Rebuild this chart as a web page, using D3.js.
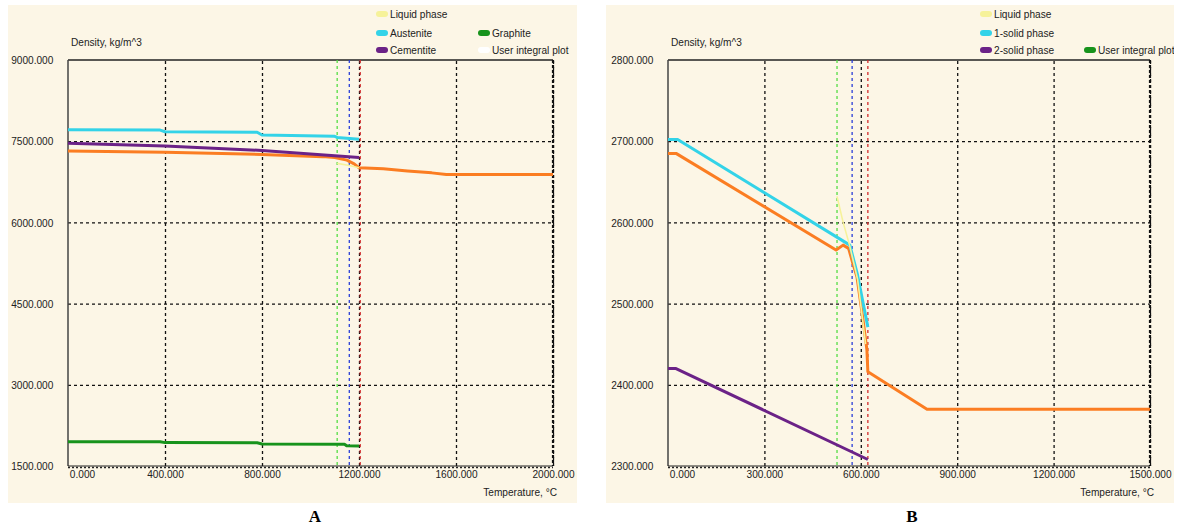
<!DOCTYPE html>
<html>
<head>
<meta charset="utf-8">
<script src="https://cdn.jsdelivr.net/npm/d3@7"></script>
<style>
    body { margin: 0; background: #fff; }
    svg { display: block; }
    .lbl { font-family: "Liberation Sans", Arial, sans-serif; font-size: 11.5px; fill: #222; }
    .grid line { stroke: #111; stroke-width: 1.3; stroke-dasharray: 3,3; }
    .grid .domain { display: none; }
    .panel-title { font-family: "Liberation Serif", serif; font-weight: bold; font-size: 17px; fill: #000; }
</style>
</head>
<body>
<svg width="1177" height="528"></svg>
<script>
//  ---- Panel A : Fe-C cast iron ----
const tempTicksA = [0, 400, 800, 1200, 1600, 2000];
const densTicksA = [1500, 3000, 4500, 6000, 7500, 9000];
const liquidA     = [[1110, 7090], [1160, 7050], [1200, 7010]];
const austeniteA  = [[0, 7710], [380, 7705], [400, 7675], [780, 7665], [800, 7615], [1100, 7590], [1110, 7570], [1200, 7535]];
const cementiteA  = [[0, 7460], [400, 7410], [800, 7330], [1100, 7230], [1200, 7200]];
const graphiteA   = [[0, 1950], [380, 1948], [400, 1932], [780, 1928], [800, 1908], [1140, 1900], [1150, 1872], [1200, 1870]];
const integralA   = [[0, 7320], [400, 7295], [800, 7255], [1050, 7215], [1100, 7200], [1150, 7150], [1180, 7080], [1200, 7010],
                     [1300, 6990], [1400, 6950], [1500, 6915], [1560, 6885], [2000, 6885]];
const phaseLinesA = [1110, 1160, 1205];

//  ---- Panel B : aluminium alloy ----
const tempTicksB = [0, 300, 600, 900, 1200, 1500];
const densTicksB = [2300, 2400, 2500, 2600, 2700, 2800];
const liquidB     = [[526, 2632], [545, 2600], [565, 2572], [590, 2530], [605, 2482], [615, 2450]];
const solid1B     = [[0, 2702], [30, 2702], [566, 2572], [590, 2535], [622, 2471]];
const solid2B     = [[0, 2420], [25, 2420], [622, 2308]];
const integralB   = [[0, 2685], [25, 2685], [523, 2566], [545, 2572], [562, 2568], [575, 2550], [588, 2533], [607, 2480],
                     [619, 2443], [622, 2416], [806, 2370], [1500, 2370]];
const phaseLinesB = [526, 573, 622];

const colors = {
    liquid: '#f6f29a',
    cyan: '#33d3e8',
    purple: '#6b2287',
    green: '#17931c',
    orange: '#fb7d22',
    white: '#ffffff',
    bg: '#fcf6e6'
};
const phaseColors = ['#55dd44', '#2a3fd8', '#d22b2b'];
const squeeze = 0.88;   //  the original labels are a narrow font

const svg = d3.select('svg');

//  narrow text helper
function label(parent, x, y, str, anchor) {
    return parent.append('text').attr('class', 'lbl')
        .attr('transform', `translate(${x},${y}) scale(${squeeze},1)`)
        .attr('text-anchor', anchor || 'start')
        .text(str);
}

function drawPanel(cfg) {
    const g = svg.append('g').attr('transform', `translate(${cfg.left},0)`);
    const plot = { left: cfg.plotLeft, right: cfg.plotRight, top: 60, bottom: 466 };

    //  cream background + clip
    g.append('rect').attr('x', 0).attr('y', 5).attr('width', cfg.width).attr('height', 498).attr('fill', colors.bg);
    g.append('clipPath').attr('id', 'clip' + cfg.id)
        .append('rect').attr('x', 0).attr('y', 5).attr('width', cfg.width).attr('height', 498);
    const inner = g.append('g').attr('clip-path', `url(#clip${cfg.id})`);

    const x = d3.scaleLinear().domain(d3.extent(cfg.xTicks)).range([plot.left, plot.right]);
    const y = d3.scaleLinear().domain(d3.extent(cfg.yTicks)).range([plot.bottom, plot.top]);

    //  grid
    inner.append('g').attr('class', 'grid')
        .attr('transform', `translate(0,${plot.bottom})`)
        .call(d3.axisBottom(x).tickValues(cfg.xTicks.slice(1)).tickSize(-(plot.bottom - plot.top)).tickFormat(''));
    inner.append('g').attr('class', 'grid')
        .attr('transform', `translate(${plot.left},0)`)
        .call(d3.axisLeft(y).tickValues(cfg.yTicks.slice(1, -1)).tickSize(-(plot.right - plot.left)).tickFormat(''));

    //  frame
    inner.append('line').attr('x1', plot.left).attr('x2', plot.right).attr('y1', plot.top).attr('y2', plot.top)
        .attr('stroke', '#222').attr('stroke-width', 1.5);
    inner.append('line').attr('x1', plot.left).attr('x2', plot.left).attr('y1', plot.top).attr('y2', plot.bottom)
        .attr('stroke', '#444').attr('stroke-width', 1.5);
    inner.append('line').attr('x1', plot.left).attr('x2', plot.right).attr('y1', plot.bottom).attr('y2', plot.bottom)
        .attr('stroke', '#222').attr('stroke-width', 1.2);
    inner.append('line').attr('x1', plot.left).attr('x2', plot.right).attr('y1', plot.bottom + 1.5).attr('y2', plot.bottom + 1.5)
        .attr('stroke', '#222').attr('stroke-width', 1.5).attr('stroke-dasharray', '2,2');
    inner.append('line').attr('x1', plot.right).attr('x2', plot.right).attr('y1', plot.top).attr('y2', plot.bottom)
        .attr('stroke', '#111').attr('stroke-width', 2.2).attr('stroke-dasharray', '3,2');

    //  phase transition lines
    cfg.phaseLines.forEach((t, i) => {
        inner.append('line')
            .attr('x1', x(t)).attr('x2', x(t)).attr('y1', plot.top).attr('y2', plot.bottom)
            .attr('stroke', phaseColors[i]).attr('stroke-width', 1.3).attr('stroke-dasharray', '3,3');
    });

    //  series
    const line = d3.line().x(d => x(d[0])).y(d => y(d[1]));
    cfg.series.forEach(s => {
        inner.append('path').datum(s.data)
            .attr('d', line)
            .attr('fill', 'none')
            .attr('stroke', s.color)
            .attr('stroke-width', s.width || 3)
            .attr('stroke-linejoin', 'round');
    });

    //  tick labels
    const yAx = inner.append('g').attr('transform', `translate(${plot.left - 12},0)`)
        .call(d3.axisLeft(y).tickValues(cfg.yTicks).tickSize(0).tickFormat(d3.format('.3f')));
    yAx.select('.domain').remove();
    yAx.selectAll('text').attr('class', 'lbl').attr('font-family', null).attr('font-size', null).attr('fill', null)
        .attr('transform', `scale(${squeeze},1)`);

    const xAx = inner.append('g').attr('transform', `translate(0,${plot.bottom + 2})`)
        .call(d3.axisBottom(x).tickValues(cfg.xTicks).tickSize(0).tickFormat(d3.format('.3f')));
    xAx.select('.domain').remove();
    xAx.selectAll('text').attr('class', 'lbl').attr('font-family', null).attr('font-size', null).attr('fill', null)
        .attr('dy', '0.6em')
        .attr('transform', (d, i) => i === 0 ? `translate(14,0) scale(${squeeze},1)` : `scale(${squeeze},1)`);

    //  axis titles
    label(inner, plot.left + 3, 46, 'Density, kg/m^3');
    label(inner, plot.right + 4, 496, 'Temperature, \u00b0C', 'end');

    //  legend
    cfg.series.forEach(s => {
        const lg = inner.append('g').attr('transform', `translate(${s.lx},${s.ly})`);
        lg.append('rect').attr('x', 0).attr('y', -3).attr('width', 12).attr('height', 6).attr('rx', 3)
            .attr('fill', s.legendColor || s.color);
        label(lg, 14, 4, s.name);
    });

    //  panel letter
    svg.append('text').attr('class', 'panel-title')
        .attr('x', cfg.left + cfg.titleX).attr('y', 522).attr('text-anchor', 'middle').text(cfg.id);
}

drawPanel({
    id: 'A', left: 8, width: 569, plotLeft: 60, plotRight: 545, titleX: 307,
    xTicks: tempTicksA, yTicks: densTicksA, phaseLines: phaseLinesA,
    series: [
        { name: 'User integral plot', data: integralA, color: colors.orange, legendColor: colors.white, lx: 470, ly: 50 },
        { name: 'Cementite', data: cementiteA, color: colors.purple, lx: 368, ly: 50 },
        { name: 'Austenite', data: austeniteA, color: colors.cyan, lx: 368, ly: 33 },
        { name: 'Graphite', data: graphiteA, color: colors.green, lx: 470, ly: 33 },
        { name: 'Liquid phase', data: liquidA, color: colors.liquid, width: 1.6, lx: 368, ly: 14 }
    ]
});

drawPanel({
    id: 'B', left: 606, width: 568, plotLeft: 62, plotRight: 544, titleX: 306,
    xTicks: tempTicksB, yTicks: densTicksB, phaseLines: phaseLinesB,
    series: [
        { name: 'User integral plot', data: integralB, color: colors.orange, legendColor: colors.green, lx: 478, ly: 50 },
        { name: '2-solid phase', data: solid2B, color: colors.purple, lx: 374, ly: 50 },
        { name: '1-solid phase', data: solid1B, color: colors.cyan, lx: 374, ly: 33 },
        { name: 'Liquid phase', data: liquidB, color: colors.liquid, width: 1.6, lx: 374, ly: 14 }
    ]
});
</script>
</body>
</html>
